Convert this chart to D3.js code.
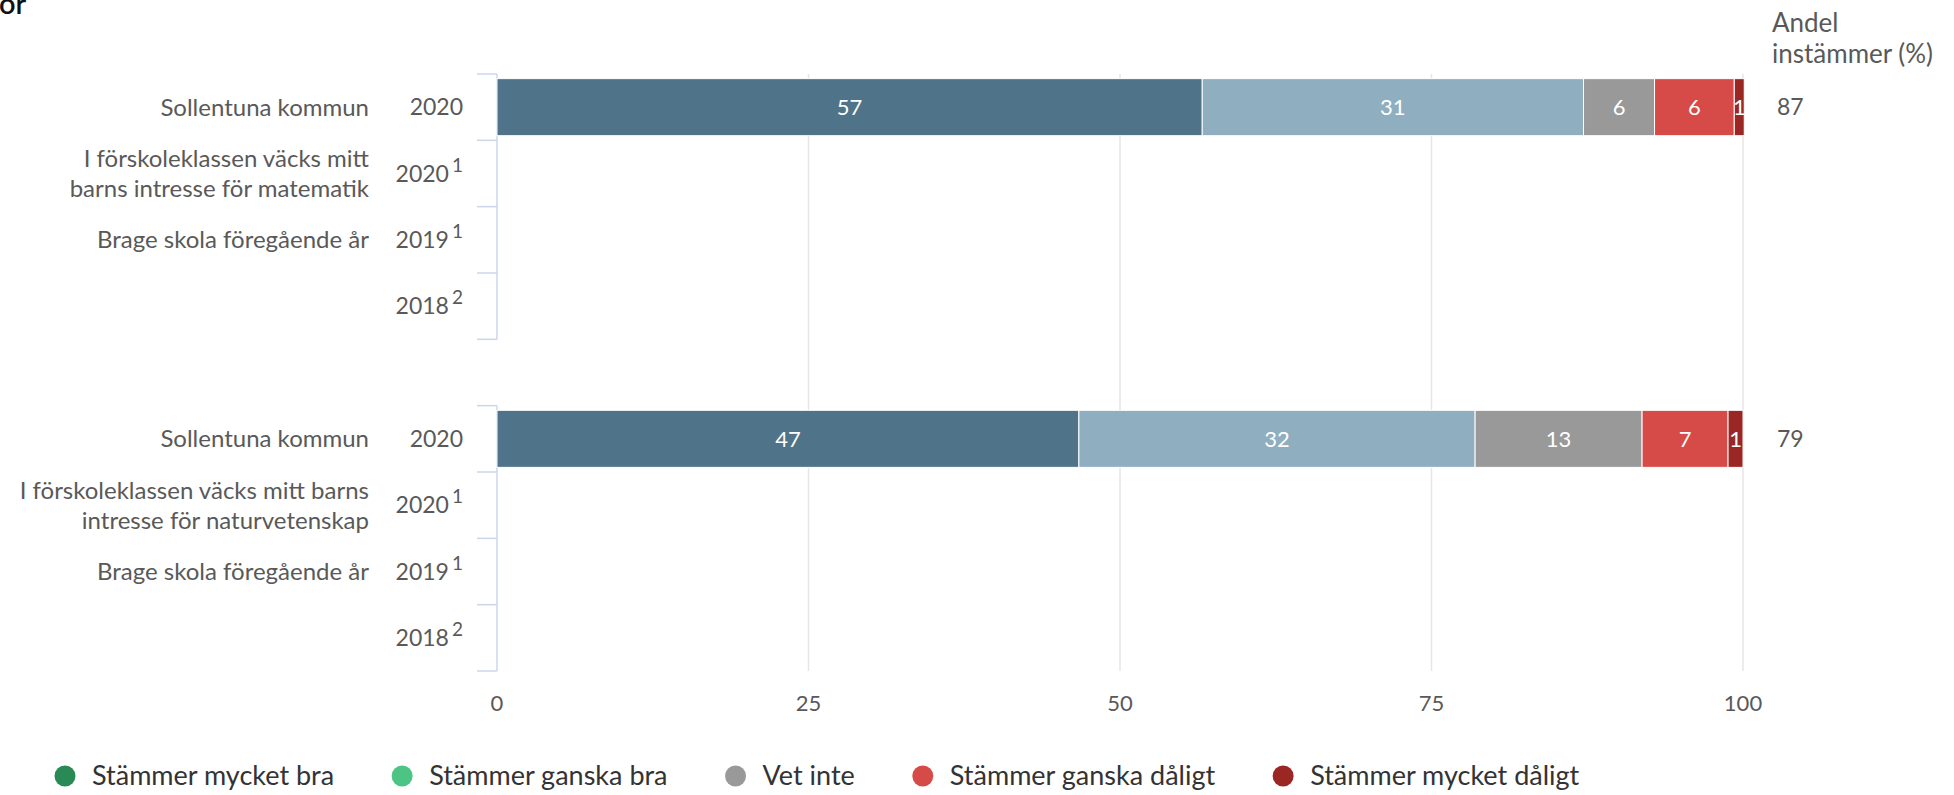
<!DOCTYPE html>
<html lang="sv">
<head>
  <meta charset="UTF-8">
  <title>Andel instämmer</title>
  <script src="https://cdn.jsdelivr.net/npm/d3@7"></script>
  <style>
    body { margin: 0; background: #fff; }
    text { font-family: Lato, "Open Sans", sans-serif; }
  </style>
</head>
<body>
  <svg width="1954" height="795"></svg>
  <script>
    // rows of the chart, one empty slot between the two questions
    var rowKeys = ['m0', 'm1', 'm2', 'm3', 'gap', 'n0', 'n1', 'n2', 'n3'];
    var rowNames = [
      ['Sollentuna kommun'],
      ['I förskoleklassen väcks mitt', 'barns intresse för matematik'],
      ['Brage skola föregående år'],
      [],
      [],
      ['Sollentuna kommun'],
      ['I förskoleklassen väcks mitt barns', 'intresse för naturvetenskap'],
      ['Brage skola föregående år'],
      []
    ];
    var rowYears = ['2020', '2020', '2019', '2018', '', '2020', '2020', '2019', '2018'];
    var rowNotes = ['', '1', '1', '2', '', '', '1', '1', '2'];

    var seriesNames = ['Stämmer mycket bra', 'Stämmer ganska bra', 'Vet inte',
      'Stämmer ganska dåligt', 'Stämmer mycket dåligt'];
    var barColors = ['#4f7489', '#8faec0', '#999999', '#d64b47', '#9a2724'];
    var legendColors = ['#2a8a55', '#4cc584', '#999999', '#d64b47', '#9a2724'];

    // only the Sollentuna rows have answers
    var barRows = ['m0', 'n0'];
    var mathValues = [56.6, 30.6, 5.7, 6.4, 0.8];
    var scienceValues = [46.7, 31.8, 13.4, 6.9, 1.2];
    var agreeShare = [87, 79];
    var xTicks = [0, 25, 50, 75, 100];

    var svg = d3.select('svg');
    var textColor = '#595959';

    var x = d3.scaleLinear().domain([0, 100]).range([497, 1743]);
    var y = d3.scaleBand().domain(rowKeys).range([74, 671])
      .paddingInner(0.14).paddingOuter(0.07);
    var step = y.step();
    var pad = step * 0.07;

    // grid lines
    svg.append('g').selectAll('line')
      .data(xTicks.slice(1))
      .join('line')
      .attr('x1', function(d) { return x(d); })
      .attr('x2', function(d) { return x(d); })
      .attr('y1', y.range()[0])
      .attr('y2', y.range()[1])
      .attr('stroke', '#e6e6e6')
      .attr('stroke-width', 1.5);

    // category axis, drawn per question group
    var groups = [rowKeys.slice(0, 4), rowKeys.slice(5, 9)];
    groups.forEach(function(keys) {
      var top = y(keys[0]) - pad;
      var bottom = y(keys[keys.length - 1]) - pad + step;
      var g = svg.append('g');
      g.append('line')
        .attr('x1', x(0)).attr('x2', x(0))
        .attr('y1', top).attr('y2', bottom)
        .attr('stroke', '#ccd6eb').attr('stroke-width', 1.5);
      var edges = keys.map(function(k) { return y(k) - pad; }).concat([bottom]);
      g.selectAll('line.tick')
        .data(edges)
        .join('line')
        .attr('class', 'tick')
        .attr('x1', x(0) - 20).attr('x2', x(0))
        .attr('y1', function(d) { return d; })
        .attr('y2', function(d) { return d; })
        .attr('stroke', '#ccd6eb').attr('stroke-width', 1.5);
    });

    // row labels
    var labels = svg.append('g').selectAll('g')
      .data(rowKeys)
      .join('g')
      .attr('transform', function(d) {
        return 'translate(0,' + (y(d) + y.bandwidth() / 2) + ')';
      });

    labels.append('text')
      .attr('text-anchor', 'end')
      .attr('fill', textColor)
      .style('font-size', '24px')
      .each(function(d, i) {
        var lines = rowNames[i];
        var t = d3.select(this);
        lines.forEach(function(line, j) {
          t.append('tspan')
            .attr('x', 369)
            .attr('y', (j - (lines.length - 1) / 2) * 30)
            .attr('dy', '0.35em')
            .text(line);
        });
      });

    labels.append('text')
      .attr('text-anchor', 'end')
      .attr('x', 463)
      .attr('dy', '0.35em')
      .attr('fill', textColor)
      .style('font-size', '23px')
      .each(function(d, i) {
        var t = d3.select(this);
        t.append('tspan').text(rowYears[i]);
        if (rowNotes[i]) {
          t.append('tspan')
            .attr('dx', 3)
            .attr('dy', -10)
            .style('font-size', '19px')
            .text(rowNotes[i]);
        }
      });

    // stacked bars
    var barData = [mathValues, scienceValues];
    barRows.forEach(function(key, r) {
      var values = barData[r];
      var stack = [];
      var start = 0;
      values.forEach(function(v, i) {
        stack.push({ x0: start, x1: start + v, v: v, i: i });
        start += v;
      });
      var g = svg.append('g');
      g.selectAll('rect')
        .data(stack)
        .join('rect')
        .attr('x', function(d) { return x(d.x0); })
        .attr('width', function(d) { return x(d.x1) - x(d.x0); })
        .attr('y', y(key))
        .attr('height', y.bandwidth())
        .attr('fill', function(d) { return barColors[d.i]; })
        .attr('stroke', '#fff')
        .attr('stroke-width', 1);
      g.selectAll('text')
        .data(stack)
        .join('text')
        .attr('x', function(d) { return (x(d.x0) + x(d.x1)) / 2; })
        .attr('y', y(key) + y.bandwidth() / 2)
        .attr('dy', '0.35em')
        .attr('text-anchor', 'middle')
        .attr('fill', '#fff')
        .style('font-size', '22px')
        .text(function(d) { return d3.format('.0f')(d.v); });

      svg.append('text')
        .attr('x', 1777)
        .attr('y', y(key) + y.bandwidth() / 2)
        .attr('dy', '0.35em')
        .attr('fill', textColor)
        .style('font-size', '23px')
        .text(agreeShare[r]);
    });

    // x axis labels
    svg.append('g').selectAll('text')
      .data(xTicks)
      .join('text')
      .attr('x', function(d) { return x(d); })
      .attr('y', 703)
      .attr('dy', '0.35em')
      .attr('text-anchor', 'middle')
      .attr('fill', textColor)
      .style('font-size', '22px')
      .text(function(d) { return d; });

    // header of the right column
    var head = svg.append('text')
      .attr('x', 1772)
      .attr('fill', textColor)
      .style('font-size', '26px');
    head.append('tspan').attr('x', 1772).attr('y', 32).text('Andel');
    head.append('tspan').attr('x', 1772).attr('y', 63).text('instämmer (%)');

    // cut title remnant
    svg.append('text')
      .attr('x', -1)
      .attr('y', 14)
      .attr('fill', '#111')
      .style('font-size', '29px')
      .style('font-weight', 600)
      .text('or');

    // legend
    var legend = svg.append('g').attr('transform', 'translate(65,776)');
    var lx = 0;
    seriesNames.forEach(function(name, i) {
      var item = legend.append('g').attr('transform', 'translate(' + lx + ',0)');
      item.append('circle').attr('r', 10.5).attr('fill', legendColors[i]);
      var t = item.append('text')
        .attr('x', 27)
        .attr('dy', '0.35em')
        .attr('fill', '#333')
        .style('font-size', '27px')
        .text(name);
      lx += 27 + t.node().getComputedTextLength() + 68;
    });
  </script>
</body>
</html>
